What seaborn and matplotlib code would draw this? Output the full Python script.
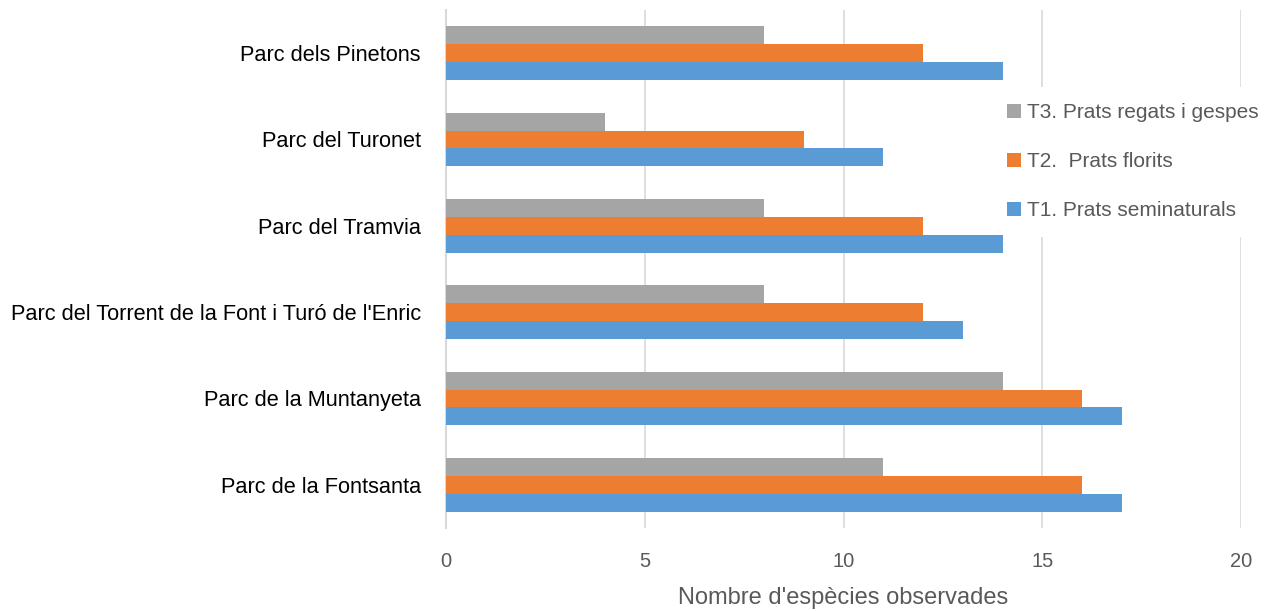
import matplotlib
matplotlib.use("Agg")
import matplotlib.pyplot as plt
import seaborn as sns
import pandas as pd

parks = ["Parc dels Pinetons", "Parc del Turonet", "Parc del Tramvia",
         "Parc del Torrent de la Font i Turó de l'Enric",
         "Parc de la Muntanyeta", "Parc de la Fontsanta"]
series = ["T3. Prats regats i gespes", "T2.  Prats florits", "T1. Prats seminaturals"]
t3 = [8, 4, 8, 8, 14, 11]
t2 = [12, 9, 12, 12, 16, 16]
t1 = [14, 11, 14, 13, 17, 17]
colors = ["#A5A5A5", "#ED7D31", "#5B9BD5"]
xticks = [0, 5, 10, 15, 20]
xlabel = "Nombre d'espècies observades"

rows = []
for name, vals in zip(series, [t3, t2, t1]):
    for p, v in zip(parks, vals):
        rows.append({"park": p, "serie": name, "value": v})
df = pd.DataFrame(rows)

sns.set_theme(style="white")
plt.rcParams['font.family'] = ['Liberation Sans', 'DejaVu Sans']

fig = plt.figure(figsize=(12.7, 6.11), dpi=100)
ax = fig.add_axes([446/1270, 1-528/611, (1241-446)/1270, (528-10)/611])

sns.barplot(data=df, x="value", y="park", hue="serie", order=parks,
            hue_order=series, palette=colors, orient="h", width=0.62,
            saturation=1, ax=ax, legend=True, edgecolor="none")

ax.set_xlim(0, 20)
ax.set_xticks(xticks)
ax.set_xticklabels([str(t) for t in xticks], color="#595959", fontsize=14.5)
ax.tick_params(axis="x", length=0, pad=17)
ax.tick_params(axis="y", length=0, pad=18, labelsize=15.7, labelcolor="black")
ax.set_ylim(5.5, -0.5)
ax.xaxis.grid(True, color="#D9D9D9", linewidth=1.2)
ax.set_axisbelow(True)
for s in ["top", "right", "bottom"]:
    ax.spines[s].set_visible(False)
ax.spines["left"].set_color("#D9D9D9")
ax.spines["left"].set_linewidth(1.5)
ax.spines["left"].set_zorder(0.9)
ax.set_ylabel("")
ax.set_xlabel(xlabel, color="#595959", fontsize=17, labelpad=12)

leg = ax.legend(loc="upper left", bbox_to_anchor=(991/1270, 1-87/611),
                bbox_transform=fig.transFigure, frameon=True, fancybox=False,
                edgecolor="white", facecolor="white", framealpha=1,
                fontsize=15, handlelength=0.65, handleheight=0.65,
                handletextpad=0.3, labelspacing=1.45, borderpad=0.77,
                borderaxespad=0, labelcolor="#595959")
leg.get_frame().set_linewidth(0)
leg.set_zorder(0.8)

fig.savefig("out.png", dpi=100)
